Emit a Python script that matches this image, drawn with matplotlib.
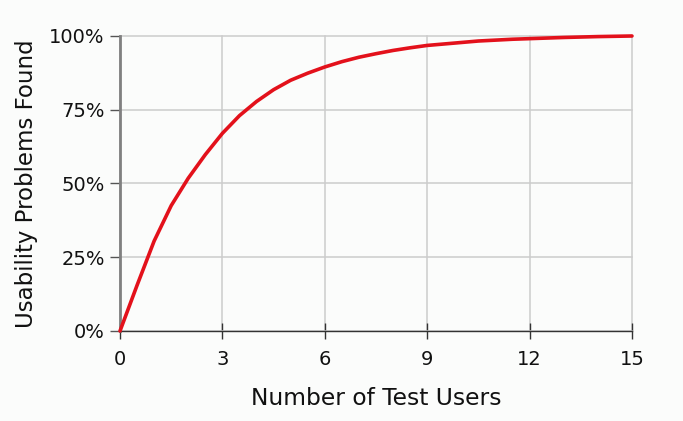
import matplotlib
matplotlib.use("Agg")
import matplotlib.pyplot as plt
from matplotlib.ticker import FuncFormatter

# Test users vs share of usability problems found (every half user)
users = [0, 0.5, 1, 1.5, 2, 2.5, 3, 3.5, 4, 4.5, 5, 5.5, 6, 6.5, 7, 7.5, 8, 8.5,
         9, 9.5, 10, 10.5, 11, 11.5, 12, 13, 14, 15]
found = [0, 15.5, 30.5, 42.5, 51.8, 59.8, 67, 73, 77.8, 81.8, 85, 87.4, 89.5, 91.3,
         92.8, 94, 95.1, 96, 96.8, 97.3, 97.8, 98.3, 98.6, 98.9, 99.1, 99.5, 99.8, 100]
x_ticks = [0, 3, 6, 9, 12, 15]
y_ticks = [0, 25, 50, 75, 100]

bg = "#fbfcfb"
fig = plt.figure(figsize=(6.83, 4.21), dpi=100, facecolor=bg)
ax = fig.add_axes([0.1757, 0.2138, 0.7496, 0.7007], facecolor=bg)

ax.plot(users, found, color="#e3111b", lw=2.6, solid_joinstyle="round",
        solid_capstyle="round", zorder=3, clip_on=False)

ax.set_xlim(0, 15)
ax.set_ylim(0, 100)
ax.set_xticks(x_ticks)
ax.set_yticks(y_ticks)
ax.yaxis.set_major_formatter(FuncFormatter(lambda v, p: f"{v:.0f}%"))
ax.grid(True, color="#cccccc", lw=1.1)
for gl in ax.get_xgridlines() + ax.get_ygridlines():
    gl.set_clip_on(False)
ax.set_axisbelow(True)

for s in ["top", "right"]:
    ax.spines[s].set_visible(False)
ax.spines["left"].set_color("#808080")
ax.spines["left"].set_linewidth(2)
ax.spines["bottom"].set_color("#333333")
ax.spines["bottom"].set_linewidth(1)

ax.tick_params(axis="x", direction="inout", length=12, width=1, color="#333333",
               labelsize=14, pad=8, labelcolor="#111111")
ax.tick_params(axis="y", direction="out", length=7, width=1, color="#555555",
               labelsize=14, pad=4, labelcolor="#111111")

ax.set_xlabel("Number of Test Users", fontsize=16.8, labelpad=13, color="#111111")
ax.set_ylabel("Usability Problems Found", fontsize=16.5, labelpad=8, color="#111111")

fig.savefig("out.png", dpi=100, facecolor=bg)
